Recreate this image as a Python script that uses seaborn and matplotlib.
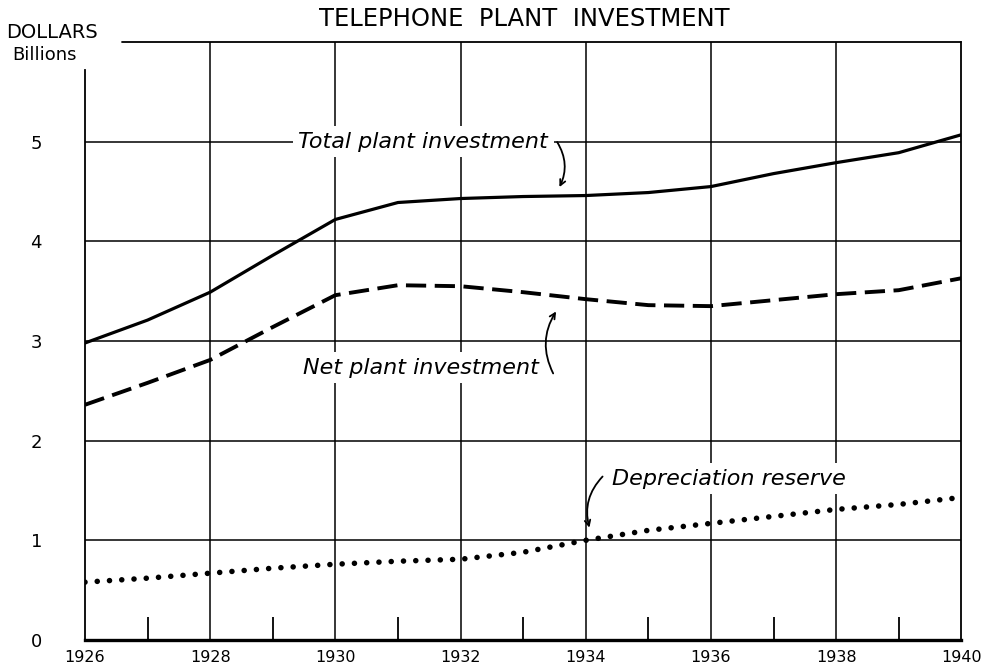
import matplotlib
matplotlib.use("Agg")
import matplotlib.pyplot as plt
import seaborn as sns

# 数据（单位：十亿美元）
years = list(range(1926, 1941))
total_plant = [2.98, 3.21, 3.49, 3.86, 4.22, 4.39, 4.43, 4.45, 4.46, 4.49, 4.55, 4.68, 4.79, 4.89, 5.07]
net_plant = [2.36, 2.58, 2.81, 3.14, 3.46, 3.56, 3.55, 3.49, 3.42, 3.36, 3.35, 3.41, 3.47, 3.51, 3.63]
depreciation = [0.58, 0.62, 0.67, 0.72, 0.76, 0.79, 0.81, 0.88, 1.00, 1.10, 1.17, 1.24, 1.31, 1.36, 1.43]

x_major = [1926, 1928, 1930, 1932, 1934, 1936, 1938, 1940]
x_minor = [1927, 1929, 1931, 1933, 1935, 1937, 1939]
y_ticks = [0, 1, 2, 3, 4, 5]


def main():
    sns.set_style("white")
    plt.rcParams["font.family"] = ["DejaVu Sans"]
    plt.rcParams["text.color"] = "black"
    plt.rcParams["xtick.color"] = "black"
    plt.rcParams["ytick.color"] = "black"

    fig = plt.figure(figsize=(9.88, 6.68), dpi=100)
    ax = fig.add_axes([0.086, 0.042, 0.887, 0.895])

    # 网格线
    for x in x_major[1:-1]:
        ax.axvline(x, color="black", lw=1.1, zorder=1)
    for y in y_ticks[1:]:
        ax.axhline(y, color="black", lw=1.1, zorder=1)
    ax.axhline(6, xmin=0.042, xmax=1, color="black", lw=1.3, zorder=1, clip_on=False)

    # 三条曲线
    sns.lineplot(x=years, y=total_plant, ax=ax, color="black", linewidth=2.3, zorder=3)
    sns.lineplot(x=years, y=net_plant, ax=ax, color="black", linewidth=2.8, zorder=3)
    ax.lines[-1].set_linestyle((0, (5.2, 2.2)))
    sns.lineplot(x=years, y=depreciation, ax=ax, color="black", linewidth=4.0, zorder=3)
    ax.lines[-1].set_linestyle((0, (0.01, 2.2)))
    ax.lines[-1].set_dash_capstyle("round")

    ax.set_xlim(1926, 1940)
    ax.set_ylim(0, 6)

    ax.set_xticks(x_major)
    ax.set_xticklabels([str(v) for v in x_major], fontsize=11.5)
    ax.set_xticks(x_minor, minor=True)
    ax.tick_params(axis="x", which="major", length=0, pad=7)
    ax.tick_params(axis="x", which="minor", bottom=True, direction="in",
                   length=16.5, width=1.3, color="black")
    ax.set_yticks(y_ticks)
    ax.set_yticklabels([str(v) for v in y_ticks], fontsize=13)
    ax.tick_params(axis="y", length=0, pad=31)

    ax.spines["top"].set_visible(False)
    ax.spines["left"].set_bounds(0, 5.72)
    for s in ["left", "right"]:
        ax.spines[s].set_linewidth(1.3)
        ax.spines[s].set_color("black")
    ax.spines["bottom"].set_linewidth(2.4)
    ax.spines["bottom"].set_color("black")

    # 标注
    box = dict(facecolor="white", edgecolor="none", pad=4)
    arrow = dict(arrowstyle="->", lw=1.3, color="black")
    ax.text(1933.4, 5.0, "Total plant investment", ha="right", va="center",
            fontsize=16, style="italic", bbox=box, zorder=4)
    ax.annotate("", xy=(1933.56, 4.52), xytext=(1933.52, 5.02),
                arrowprops=dict(arrow, connectionstyle="arc3,rad=-0.3"), zorder=4)
    ax.text(1933.25, 2.73, "Net plant investment", ha="right", va="center",
            fontsize=16, style="italic", bbox=box, zorder=4)
    ax.annotate("", xy=(1933.55, 3.32), xytext=(1933.5, 2.65),
                arrowprops=dict(arrow, connectionstyle="arc3,rad=-0.3"), zorder=4)
    ax.text(1934.42, 1.62, "Depreciation reserve", ha="left", va="center",
            fontsize=16, style="italic", bbox=box, zorder=4)
    ax.annotate("", xy=(1934.07, 1.1), xytext=(1934.3, 1.66),
                arrowprops=dict(arrow, connectionstyle="arc3,rad=0.3"), zorder=4)

    fig.text(0.531, 0.972, "TELEPHONE  PLANT  INVESTMENT", ha="center", va="center", fontsize=17.5)
    fig.text(0.006, 0.952, "DOLLARS", ha="left", va="center", fontsize=14)
    fig.text(0.012, 0.918, "Billions", ha="left", va="center", fontsize=13)

    fig.savefig("out.png", dpi=100)
    plt.close(fig)


if __name__ == "__main__":
    main()
